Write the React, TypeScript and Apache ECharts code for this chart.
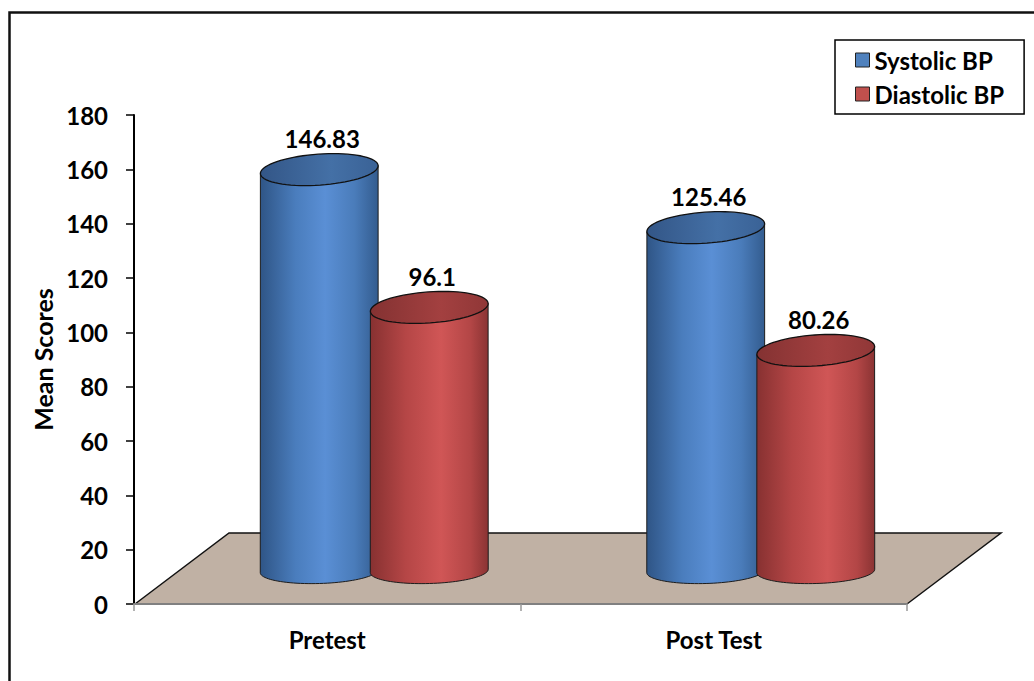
import React, { useEffect, useRef } from "react";
import * as echarts from "echarts";

const categories = ["Pretest", "Post Test"];
const seriesNames = ["Systolic BP", "Diastolic BP"];
const systolic = [146.83, 125.46];
const diastolic = [96.1, 80.26];
const yMin = 0;
const yMax = 180;
const yInterval = 20;

const FONT = "Lato, 'Open Sans', 'DejaVu Sans', sans-serif";
const DEPTH_DX = 94;
const DEPTH_DY = 71;
const RX = 59;
const RY_TOP = 15.5;
const RY_BOT = 12.5;
const ROT_TOP = 0.07;
const ROT_BOT = 0.03;

function rotPt(cx: number, cy: number, x: number, y: number, r: number): number[] {
  const c = Math.cos(r);
  const s = Math.sin(r);
  return [cx + x * c + y * s, cy - x * s + y * c];
}

function ellipsePts(cx: number, cy: number, rx: number, ry: number, rot: number, t0: number, t1: number, n: number) {
  const pts: number[][] = [];
  for (let i = 0; i <= n; i++) {
    const t = t0 + ((t1 - t0) * i) / n;
    pts.push(rotPt(cx, cy, rx * Math.cos(t), ry * Math.sin(t), rot));
  }
  return pts;
}

const palettes = [
  {
    side: [
      [0, "#2f5586"],
      [0.3, "#4a7dbd"],
      [0.55, "#5a8fd5"],
      [0.8, "#4a7cba"],
      [1, "#335c8f"],
    ],
    top: [
      [0, "#335687"],
      [0.6, "#4470a6"],
      [1, "#3a6296"],
    ],
    color: "#4f81bd",
  },
  {
    side: [
      [0, "#873131"],
      [0.3, "#b54646"],
      [0.6, "#d05656"],
      [0.85, "#b34646"],
      [1, "#8a3333"],
    ],
    top: [
      [0, "#843232"],
      [0.6, "#a34040"],
      [1, "#903737"],
    ],
    color: "#c0504d",
  },
];

function grad(stops: any[]) {
  return new echarts.graphic.LinearGradient(
    0,
    0,
    1,
    0,
    stops.map((s) => ({ offset: s[0], color: s[1] }))
  );
}

function makeCylinder(offset: number, pal: any) {
  return (params: any, api: any) => {
    const idx = api.value(0);
    const v = api.value(1);
    const p0 = api.coord([idx, 0]);
    const pv = api.coord([idx, v]);
    const cx = p0[0] + DEPTH_DX / 2 + offset;
    const baseY = p0[1] - 33;
    const topY = pv[1] - DEPTH_DY / 2;
    const bottomPts = ellipsePts(cx, baseY, RX, RY_BOT, ROT_BOT, Math.PI, 0, 48);
    const tl = rotPt(cx, topY, -RX, 0, ROT_TOP);
    const tr = rotPt(cx, topY, RX, 0, ROT_TOP);
    const body = [tl, ...bottomPts, tr];
    const topPts = ellipsePts(cx, topY, RX, RY_TOP, ROT_TOP, 0, Math.PI * 2, 72);
    return {
      type: "group",
      children: [
        {
          type: "polygon",
          shape: { points: body },
          style: { fill: grad(pal.side), stroke: "#1c1c1c", lineWidth: 1 },
        },
        {
          type: "polygon",
          shape: { points: topPts },
          style: { fill: grad(pal.top), stroke: "#111", lineWidth: 1.3 },
        },
        {
          type: "text",
          style: {
            text: String(v),
            x: cx + 3,
            y: topY - 31,
            align: "center",
            verticalAlign: "middle",
            fill: "#000",
            font: `bold 24px ${FONT}`,
          },
        },
      ],
    };
  };
}

function floorRender(params: any, api: any) {
  const cs = params.coordSys;
  const by = cs.y + cs.height;
  const lx = cs.x + 1;
  const rx = cs.x + cs.width;
  const pts = [
    [lx, by],
    [lx + DEPTH_DX, by - DEPTH_DY],
    [rx + DEPTH_DX, by - DEPTH_DY],
    [rx, by],
  ];
  return {
    type: "group",
    children: [
      { type: "polygon", shape: { points: pts }, style: { fill: "#c0b1a4", stroke: null } },
      {
        type: "polyline",
        shape: { points: pts },
        style: { fill: null, stroke: "#111", lineWidth: 1.5 },
      },
    ],
  };
}

export default function App() {
  const ref = useRef<HTMLDivElement>(null);
  useEffect(() => {
    if (!ref.current) return;
    const chart = echarts.init(ref.current, undefined, { renderer: "svg" });
    const axisFont = { fontFamily: FONT, fontWeight: "bold" as const, fontSize: 24, color: "#000" };
    chart.setOption({
      animation: false,
      backgroundColor: "#fff",
      grid: { left: 134, right: 127, top: 115, bottom: 77, containLabel: false },
      legend: {
        data: seriesNames,
        orient: "vertical",
        left: 835,
        top: 40,
        padding: [8, 20, 8, 20],
        itemGap: 10,
        itemWidth: 14,
        itemHeight: 14,
        icon: "rect",
        borderColor: "#000",
        borderWidth: 1.5,
        backgroundColor: "#fff",
        itemStyle: { borderColor: "#222", borderWidth: 1 },
        textStyle: { ...axisFont, lineHeight: 23 },
      },
      xAxis: {
        type: "category",
        data: categories,
        boundaryGap: true,
        z: 5,
        axisLine: { show: true, lineStyle: { color: "#808080", width: 2 } },
        axisTick: { show: true, length: 7, lineStyle: { color: "#999", width: 1.5 } },
        axisLabel: { ...axisFont, margin: 23 },
        splitLine: { show: false },
      },
      yAxis: {
        type: "value",
        min: yMin,
        max: yMax,
        interval: yInterval,
        name: "Mean Scores",
        nameLocation: "middle",
        nameGap: 78,
        nameTextStyle: { ...axisFont, fontSize: 25 },
        axisLine: { show: true, lineStyle: { color: "#000", width: 2 } },
        axisTick: { show: true, length: 8, lineStyle: { color: "#000", width: 1.5 } },
        axisLabel: { ...axisFont, margin: 26 },
        splitLine: { show: false },
      },
      graphic: [
        {
          type: "rect",
          shape: { x: 9.5, y: 12.5, width: 1100, height: 1000 },
          style: { fill: "rgba(0,0,0,0)", stroke: "#111", lineWidth: 2.5 },
          z: 100,
          silent: true,
        },
      ],
      series: [
        {
          type: "custom",
          name: "floor",
          renderItem: floorRender,
          data: [[0, 0]],
          z: 1,
          silent: true,
        },
        {
          type: "custom",
          name: seriesNames[0],
          itemStyle: { color: palettes[0].color },
          renderItem: makeCylinder(-55, palettes[0]),
          encode: { x: 0, y: 1 },
          data: categories.map((c, i) => [i, systolic[i]]),
          z: 2,
        },
        {
          type: "custom",
          name: seriesNames[1],
          itemStyle: { color: palettes[1].color },
          renderItem: makeCylinder(55, palettes[1]),
          encode: { x: 0, y: 1 },
          data: categories.map((c, i) => [i, diastolic[i]]),
          z: 2,
        },
      ],
    });
    return () => chart.dispose();
  }, []);
  return <div ref={ref} style={{ position: "fixed", left: 0, top: 0, width: 1034, height: 681 }} />;
}
